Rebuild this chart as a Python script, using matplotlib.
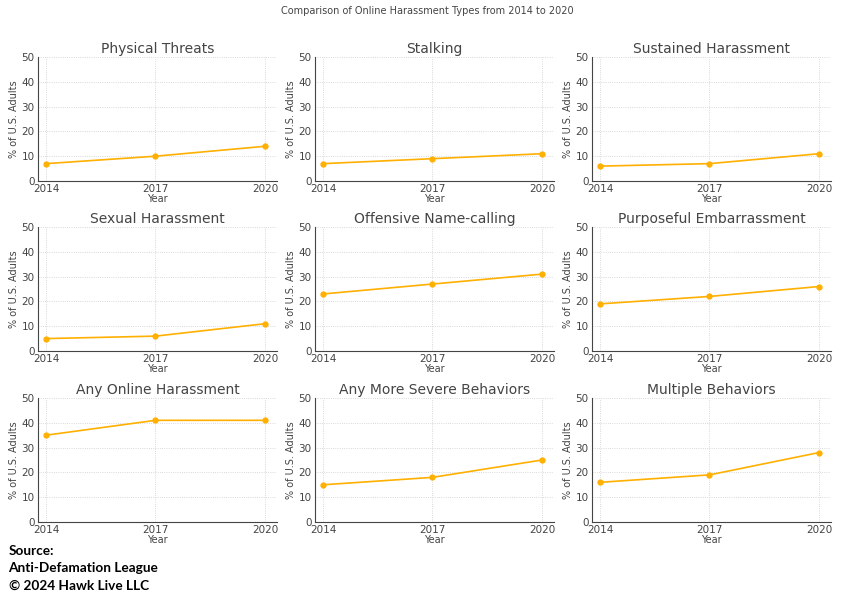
import matplotlib
matplotlib.use("Agg")
import matplotlib.pyplot as plt

years = [2014, 2017, 2020]
titles = ["Physical Threats", "Stalking", "Sustained Harassment",
          "Sexual Harassment", "Offensive Name-calling", "Purposeful Embarrassment",
          "Any Online Harassment", "Any More Severe Behaviors", "Multiple Behaviors"]
physical_threats = [7, 10, 14]
stalking = [7, 9, 11]
sustained = [6, 7, 11]
sexual = [5, 6, 11]
name_calling = [23, 27, 31]
embarrassment = [19, 22, 26]
any_online = [35, 41, 41]
more_severe = [15, 18, 25]
multiple = [16, 19, 28]
series = [physical_threats, stalking, sustained, sexual, name_calling,
          embarrassment, any_online, more_severe, multiple]

TEXT = "#444444"
LINE = "#FFB000"

fig = plt.figure(figsize=(8.54, 6), dpi=100)
fig.suptitle("Comparison of Online Harassment Types from 2014 to 2020",
             fontsize=7, color=TEXT, y=0.99)

lefts = [38 / 854, 315 / 854, 592 / 854]
bottoms = [1 - 181 / 600, 1 - 351 / 600, 1 - 522 / 600]
w, h = 239 / 854, 124 / 600

for i, (title, vals) in enumerate(zip(titles, series)):
    r, c = divmod(i, 3)
    ax = fig.add_axes([lefts[c], bottoms[r], w, h])
    ax.plot(years, vals, color=LINE, marker="o", markersize=3.5, linewidth=1.2)
    ax.set_title(title, fontsize=10, color=TEXT, pad=3)
    ax.set_xlim(2013.78, 2020.33)
    ax.set_ylim(0, 50)
    ax.set_xticks(years)
    ax.set_yticks(range(0, 51, 10))
    ax.set_xlabel("Year", fontsize=7, color=TEXT, labelpad=0)
    ax.set_ylabel("% of U.S. Adults", fontsize=7, color=TEXT, labelpad=1.5)
    ax.tick_params(labelsize=7.5, colors=TEXT, length=0, pad=2.5)
    ax.grid(True, linestyle=":", linewidth=0.6, color="#cccccc")
    for s in ["top", "right"]:
        ax.spines[s].set_visible(False)
    for s in ["left", "bottom"]:
        ax.spines[s].set_color(TEXT)

fig.text(0.01, 1 - 545 / 600, "Source:\nAnti-Defamation League\n\u00a9 2024 Hawk Live LLC",
         fontsize=9.8, fontweight="bold", family=["Lato", "DejaVu Sans"],
         va="top", ha="left", color="black", linespacing=1.55)

fig.savefig("out.png", dpi=100)
